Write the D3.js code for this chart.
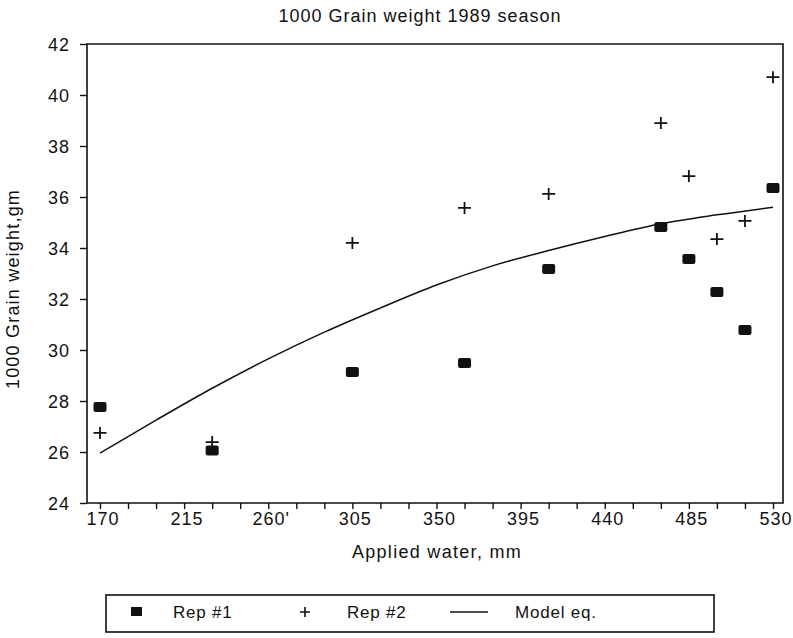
<!DOCTYPE html>
<html>
<head>
<meta charset="utf-8">
<script src="https://cdn.jsdelivr.net/npm/d3@7"></script>
<style>
  html, body { margin: 0; padding: 0; background: #fff; }
  svg { display: block; }
  text { font-family: "Liberation Sans", Arial, sans-serif; fill: #111; }
</style>
</head>
<body>
<svg id="chart" width="793" height="638"></svg>
<script>
// ---- data ----
const waterMm = [170, 230, 305, 365, 410, 470, 485, 500, 515, 530];
const rep1 = [27.76, 26.06, 29.14, 29.49, 33.18, 34.82, 33.57, 32.27, 30.78, 36.35];
const rep2 = [26.75, 26.39, 34.2, 35.57, 36.12, 38.9, 36.82, 34.35, 35.06, 40.7];
const modelX = [170, 200, 230, 260, 290, 320, 350, 380, 410, 440, 470, 500, 530];
const modelY = [25.96, 27.25, 28.5, 29.65, 30.7, 31.65, 32.55, 33.3, 33.9, 34.45, 34.95, 35.3, 35.6];
const xTickLabels = [170, 215, 260, 305, 350, 395, 440, 485, 530];
const xMinorTicks = d3.range(170, 531, 15);
const yTickLabels = [24, 26, 28, 30, 32, 34, 36, 38, 40, 42];
const legendLabels = ["Rep #1", "Rep #2", "Model eq."];
const titleText = "1000 Grain weight 1989 season";
const xTitle = "Applied water, mm";
const yTitle = "1000 Grain weight,gm";

// ---- layout ----
const svg = d3.select("#chart");
const plotL = 87, plotR = 783, plotT = 44, plotB = 503;
const x = d3.scaleLinear().domain([170, 530]).range([100, 773]);
const y = d3.scaleLinear().domain([24, 42]).range([plotB, plotT]);
const ink = "#111";

// frame
svg.append("path")
  .attr("d", `M${plotL},${plotB}V${plotT}H${plotR}V${plotB}Z`)
  .attr("fill", "none").attr("stroke", ink).attr("stroke-width", 1.6);

// x axis ticks
const xAxis = d3.axisBottom(x).tickValues(xMinorTicks).tickSize(6).tickFormat("");
const gx = svg.append("g").attr("transform", `translate(0,${plotB})`).call(xAxis);
gx.select(".domain").remove();
gx.selectAll("line").attr("stroke", ink).attr("stroke-width", 1.4);
svg.append("g").selectAll("text").data(xTickLabels).join("text")
  .attr("x", d => x(d) + 3)
  .attr("y", 525)
  .attr("text-anchor", "middle")
  .attr("font-size", 18)
  .attr("letter-spacing", 1)
  .text(d => d === 260 ? d + "'" : d);

// y axis ticks
const yAxis = d3.axisLeft(y).tickValues(yTickLabels).tickSize(7).tickPadding(10).tickFormat(d3.format("d"));
const gy = svg.append("g").attr("transform", `translate(${plotL},0)`).call(yAxis);
gy.select(".domain").remove();
gy.selectAll("line").attr("stroke", ink).attr("stroke-width", 1.4);
gy.selectAll("text")
  .attr("font-size", 18)
  .attr("letter-spacing", 1)
  .attr("font-family", "Liberation Sans, Arial, sans-serif")
  .attr("fill", ink)
  .attr("dy", "0.36em");

// model line
const line = d3.line()
  .x(d => x(d[0])).y(d => y(d[1]))
  .curve(d3.curveMonotoneX);
svg.append("path")
  .datum(modelX.map((v, i) => [v, modelY[i]]))
  .attr("d", line)
  .attr("fill", "none").attr("stroke", ink).attr("stroke-width", 1.5);

// Rep #1 squares
svg.append("g").selectAll("rect").data(waterMm.map((v, i) => [v, rep1[i]])).join("rect")
  .attr("x", d => x(d[0]) - 6.5)
  .attr("y", d => y(d[1]) - 5)
  .attr("width", 13).attr("height", 10)
  .attr("rx", 2)
  .attr("fill", ink);

// Rep #2 plus signs
const plus = "M-6.5,0H6.5M0,-6V6";
svg.append("g").selectAll("path").data(waterMm.map((v, i) => [v, rep2[i]])).join("path")
  .attr("transform", d => `translate(${x(d[0])},${y(d[1])})`)
  .attr("d", plus)
  .attr("stroke", ink).attr("stroke-width", 1.8).attr("fill", "none");

// titles
svg.append("text").attr("x", 420).attr("y", 22)
  .attr("text-anchor", "middle").attr("font-size", 18).attr("letter-spacing", 1)
  .text(titleText);
svg.append("text").attr("x", 437).attr("y", 558)
  .attr("text-anchor", "middle").attr("font-size", 18).attr("letter-spacing", 1.3)
  .text(xTitle);
svg.append("text")
  .attr("transform", "translate(18.5,289) rotate(-90)")
  .attr("text-anchor", "middle").attr("font-size", 18).attr("letter-spacing", 1.2)
  .text(yTitle);

// legend
const lg = svg.append("g");
lg.append("rect").attr("x", 106).attr("y", 595).attr("width", 608).attr("height", 37)
  .attr("fill", "none").attr("stroke", ink).attr("stroke-width", 1.6);
lg.append("rect").attr("x", 131).attr("y", 607).attr("width", 11).attr("height", 9)
  .attr("fill", ink);
lg.append("path").attr("transform", "translate(305,612)").attr("d", "M-5,0H5M0,-5V5")
  .attr("stroke", ink).attr("stroke-width", 1.6);
lg.append("line").attr("x1", 450).attr("x2", 488).attr("y1", 612).attr("y2", 612)
  .attr("stroke", ink).attr("stroke-width", 1.3);
const legendX = [173, 347, 515];
lg.selectAll("text.lab").data(legendLabels).join("text")
  .attr("class", "lab")
  .attr("x", (d, i) => legendX[i]).attr("y", 618)
  .attr("font-size", 17).attr("letter-spacing", 0.8)
  .text(d => d);
</script>
</body>
</html>
